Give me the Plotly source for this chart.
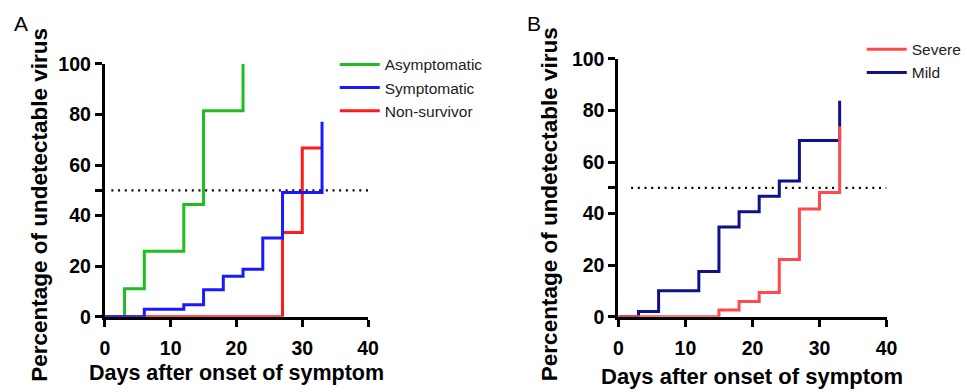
import plotly.graph_objects as go

# ---- data: panel A ----
asym_days = [0, 3, 6, 12, 15, 21]
asym_pct = [0, 11.1, 25.9, 44.4, 81.5, 100]
sym_days = [0, 6, 12, 15, 18, 21, 24, 27, 33]
sym_pct = [0, 3.0, 4.8, 10.7, 16.0, 18.8, 31.2, 49.1, 77.1]
nonsurv_days = [0, 27, 30, 33]
nonsurv_pct = [0, 33.3, 66.7, 66.7]

# ---- data: panel B ----
mild_days = [0, 3, 6, 12, 15, 18, 21, 24, 27, 33]
mild_pct = [0, 2.1, 10.1, 17.6, 34.8, 40.7, 46.7, 52.6, 68.3, 83.8]
severe_days = [0, 15, 18, 21, 24, 27, 30, 33]
severe_pct = [0, 2.6, 5.9, 9.4, 22.2, 41.8, 48.2, 73.9]

threshold = 50
ref_a_days = [1, 40]
ref_b_days = [1.9, 40]

x_ticks = [0, 10, 20, 30, 40]
y_ticks = [0, 20, 40, 50, 60, 80, 100]
y_tick_text = ["0", "20", "40", "", "60", "80", "100"]

FONT = "Liberation Sans, Arial, sans-serif"
LW = 3

fig = go.Figure()

# Panel A traces (drawing order: green, red, blue)
fig.add_trace(go.Scatter(x=ref_a_days, y=[threshold, threshold], mode="lines",
                         line=dict(color="black", width=2.2, dash="2px,4.7px"),
                         showlegend=False, hoverinfo="skip", xaxis="x", yaxis="y"))
fig.add_trace(go.Scatter(x=asym_days, y=asym_pct, mode="lines", name="Asymptomatic",
                         line=dict(color="#1fbd1f", width=LW, shape="hv"),
                         legendrank=1, legend="legend", xaxis="x", yaxis="y"))
fig.add_trace(go.Scatter(x=nonsurv_days, y=nonsurv_pct, mode="lines", name="Non-survivor",
                         line=dict(color="#ff1a1a", width=LW, shape="hv"),
                         legendrank=3, legend="legend", xaxis="x", yaxis="y"))
fig.add_trace(go.Scatter(x=sym_days, y=sym_pct, mode="lines", name="Symptomatic",
                         line=dict(color="#1a1aff", width=LW, shape="hv"),
                         legendrank=2, legend="legend", xaxis="x", yaxis="y"))

# Panel B traces (drawing order: navy, red)
fig.add_trace(go.Scatter(x=ref_b_days, y=[threshold, threshold], mode="lines",
                         line=dict(color="black", width=2.2, dash="2px,4.7px"),
                         showlegend=False, hoverinfo="skip", xaxis="x2", yaxis="y2"))
fig.add_trace(go.Scatter(x=mild_days, y=mild_pct, mode="lines", name="Mild",
                         line=dict(color="#10108a", width=LW, shape="hv"),
                         legendrank=2, legend="legend2", xaxis="x2", yaxis="y2"))
fig.add_trace(go.Scatter(x=severe_days, y=severe_pct, mode="lines", name="Severe",
                         line=dict(color="#ff4a4a", width=LW, shape="hv"),
                         legendrank=1, legend="legend2", xaxis="x2", yaxis="y2"))

W, H = 967, 392

def px_x(p):
    return p / W

def px_y(p):
    return 1 - p / H

axis_common = dict(showgrid=False, zeroline=False, showline=True, linecolor="black",
                   linewidth=3, ticks="outside", ticklen=7, tickwidth=3, tickcolor="black",
                   tickfont=dict(family=FONT, size=19.5, color="black", weight="bold"),
                   layer="below traces", fixedrange=True)

fig.update_layout(
    width=W, height=H,
    margin=dict(l=0, r=0, t=0, b=0),
    paper_bgcolor="white", plot_bgcolor="white",
    font=dict(family=FONT, color="black"),
    xaxis=dict(domain=[px_x(101.7), px_x(370)], range=[0, 40], tickvals=x_ticks,
               anchor="y", ticklabelstandoff=5, **axis_common),
    yaxis=dict(domain=[px_y(324), px_y(56)], range=[0, 100], tickvals=y_ticks,
               ticktext=y_tick_text, anchor="x", **axis_common),
    xaxis2=dict(domain=[px_x(625), px_x(898.3)], range=[0, 40], tickvals=x_ticks,
                anchor="y2", ticklabelstandoff=5, **axis_common),
    yaxis2=dict(domain=[px_y(324), px_y(50.7)], range=[0, 100], tickvals=y_ticks,
                ticktext=y_tick_text, anchor="x2", **axis_common),
    legend=dict(x=px_x(336), y=px_y(39), xanchor="left", yanchor="top",
                bgcolor="rgba(0,0,0,0)", font=dict(family=FONT, size=15.5, color="#222"),
                tracegroupgap=0, itemwidth=40),
    legend2=dict(x=px_x(873), y=px_y(23), xanchor="left", yanchor="top",
                 bgcolor="rgba(0,0,0,0)", font=dict(family=FONT, size=15.5, color="#222"),
                 tracegroupgap=0, itemwidth=40),
    showlegend=True,
)

ytitle_font = dict(family=FONT, size=22.5, color="black", weight="bold")
common_ann = dict(xref="paper", yref="paper", showarrow=False, xanchor="center", yanchor="middle")
annotations = [
    dict(text="A", x=px_x(16), y=px_y(13), font=dict(family=FONT, size=21, color="black"), **common_ann),
    dict(text="B", x=px_x(539), y=px_y(13), font=dict(family=FONT, size=21, color="black"), **common_ann),
    dict(text="Percentage of undetectable virus", x=px_x(35), y=px_y(205), textangle=-90,
         font=ytitle_font, **common_ann),
    dict(text="Percentage of undetectable virus", x=px_x(555), y=px_y(205), textangle=-90,
         font=ytitle_font, **common_ann),
    dict(text="Days after onset of symptom", x=px_x(236), y=px_y(384),
         font=dict(family=FONT, size=21.5, color="black", weight="bold"), **common_ann),
    dict(text="Days after onset of symptom", x=px_x(761), y=px_y(387),
         font=dict(family=FONT, size=22, color="black", weight="bold"), **common_ann),
]
fig.update_layout(annotations=annotations)

fig.write_html("out.html")
